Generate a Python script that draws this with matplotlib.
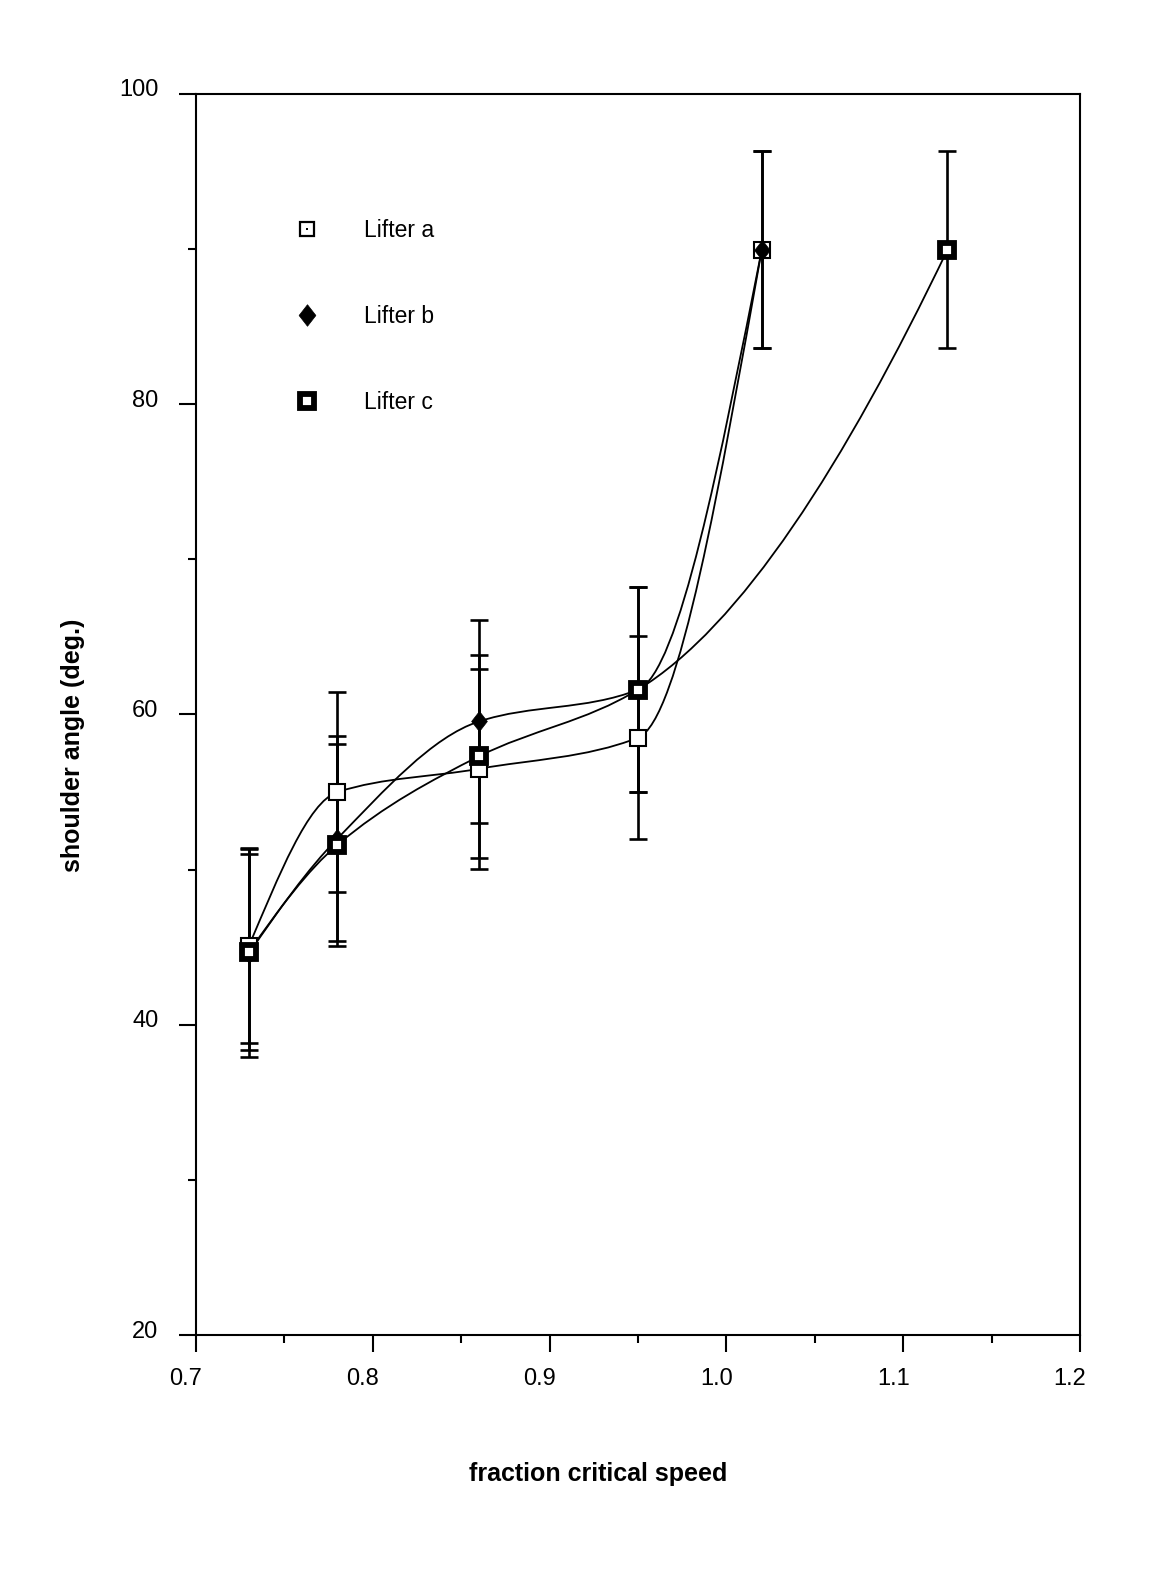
import numpy as np
import matplotlib.pyplot as plt
import matplotlib.transforms as mtransforms
from matplotlib.path import Path
from matplotlib.patches import PathPatch
from matplotlib.lines import Line2D
from matplotlib.ticker import MultipleLocator

plt.rcParams['font.family'] = ['Liberation Sans', 'DejaVu Sans']

# values
x_ab = [0.73, 0.78, 0.86, 0.95, 1.02]
x_c = [0.73, 0.78, 0.86, 0.95, 1.125]

lifter_a = [45.1, 55.0, 56.5, 58.5, 89.95]
err_a = [6.3, 6.45, 6.45, 6.55, 6.35]

lifter_b = [44.6, 52.0, 59.55, 61.6, 89.95]
err_b = [6.7, 6.6, 6.55, 6.6, 6.35]

lifter_c = [44.7, 51.6, 57.3, 61.6, 89.95]
err_c = [6.3, 6.5, 6.55, 6.6, 6.35]

labels = ["Lifter a", "Lifter b", "Lifter c"]


def smooth_path(x, y):
    # shape preserving cubic (pchip) drawn as bezier segments
    x = np.asarray(x, float)
    y = np.asarray(y, float)
    h = np.diff(x)
    d = np.diff(y) / h
    n = len(x)
    m = np.zeros(n)
    for k in range(1, n-1):
        if d[k-1]*d[k] > 0:
            w1 = 2*h[k] + h[k-1]
            w2 = h[k] + 2*h[k-1]
            m[k] = (w1 + w2) / (w1/d[k-1] + w2/d[k])
    m[0] = ((2*h[0]+h[1])*d[0] - h[0]*d[1]) / (h[0]+h[1])
    if np.sign(m[0]) != np.sign(d[0]):
        m[0] = 0
    elif np.sign(d[0]) != np.sign(d[1]) and abs(m[0]) > abs(3*d[0]):
        m[0] = 3*d[0]
    m[-1] = ((2*h[-1]+h[-2])*d[-1] - h[-1]*d[-2]) / (h[-1]+h[-2])
    if np.sign(m[-1]) != np.sign(d[-1]):
        m[-1] = 0
    elif np.sign(d[-1]) != np.sign(d[-2]) and abs(m[-1]) > abs(3*d[-1]):
        m[-1] = 3*d[-1]
    verts = [(x[0], y[0])]
    codes = [Path.MOVETO]
    for k in range(n-1):
        t = h[k] / 3
        verts += [(x[k]+t, y[k]+m[k]*t), (x[k+1]-t, y[k+1]-m[k+1]*t), (x[k+1], y[k+1])]
        codes += [Path.CURVE4]*3
    return Path(verts, codes)


diamond = [(0, 1), (0.78, 0), (0, -1), (-0.78, 0), (0, 1)]

fig = plt.figure(figsize=(11.51, 15.71), dpi=100)
ax = fig.add_axes([196/1151, 1-1335/1571, (1080-196)/1151, (1335-94)/1571])

for xs, ys in [(x_ab, lifter_a), (x_ab, lifter_b), (x_c, lifter_c)]:
    ax.add_patch(PathPatch(smooth_path(xs, ys), fill=False, ec='black', lw=1.3, zorder=2))

ebkw = dict(fmt='none', ecolor='black', elinewidth=1.9, capsize=6.5, capthick=1.9, zorder=3)
ax.errorbar(x_ab, lifter_a, yerr=err_a, **ebkw)
ax.errorbar(x_ab, lifter_b, yerr=err_b, **ebkw)
ax.errorbar(x_c, lifter_c, yerr=err_c, **ebkw)

ax.plot(x_ab, lifter_a, ls='none', marker='s', ms=11.5, mfc='white', mec='black', mew=1.5, zorder=4)
ax.plot(x_ab, lifter_b, ls='none', marker=diamond, ms=14.5, mfc='black', mec='black', mew=0.5, zorder=5)
ax.plot(x_c, lifter_c, ls='none', marker='s', ms=10, mfc='white', mec='black', mew=4.2, zorder=6)

h_a = (Line2D([], [], ls='none', marker='s', ms=9.5, mfc='white', mec='black', mew=1.6),
       Line2D([], [], ls='none', marker='s', ms=2, mfc='black', mec='black', mew=0))
h_b = Line2D([], [], ls='none', marker=diamond, ms=15.5, mfc='black', mec='black', mew=0.5)
h_c = Line2D([], [], ls='none', marker='s', ms=9.5, mfc='white', mec='black', mew=4.2)
ax.legend([h_a, h_b, h_c], labels, loc='upper left', frameon=False,
          bbox_to_anchor=(287/1151, 1-219/1571), bbox_transform=fig.transFigure,
          borderpad=0, borderaxespad=0, handlelength=1.75, handletextpad=1.6,
          labelspacing=2.75, fontsize=16.5)

ax.set_xlim(0.7, 1.2)
ax.set_ylim(20, 100)
ax.xaxis.set_major_locator(MultipleLocator(0.1))
ax.xaxis.set_minor_locator(MultipleLocator(0.05))
ax.yaxis.set_major_locator(MultipleLocator(20))
ax.yaxis.set_minor_locator(MultipleLocator(10))
ax.set_xticklabels([f"{v:.1f}" for v in ax.get_xticks()])
ax.tick_params(which='both', direction='out', width=1.5, top=False, right=False, labelsize=17)
ax.tick_params(which='major', length=12)
ax.tick_params(which='minor', length=6)
ax.tick_params(axis='y', pad=15)
ax.tick_params(axis='x', pad=12)
for sp in ax.spines.values():
    sp.set_linewidth(1.5)

off_y = mtransforms.ScaledTranslation(0, 6/100, fig.dpi_scale_trans)
for lab in ax.get_yticklabels():
    lab.set_transform(lab.get_transform() + off_y)
off_x = mtransforms.ScaledTranslation(-10/100, 0, fig.dpi_scale_trans)
for lab in ax.get_xticklabels():
    lab.set_transform(lab.get_transform() + off_x)

fig.text(598/1151, 1-1474/1571, "fraction critical speed", ha='center', va='center',
         fontsize=18, fontweight='bold')
fig.text(73/1151, 1-745/1571, "shoulder angle (deg.)", ha='center', va='center',
         rotation=90, fontsize=18, fontweight='bold')

fig.savefig("out.png", dpi=100, facecolor='white')
